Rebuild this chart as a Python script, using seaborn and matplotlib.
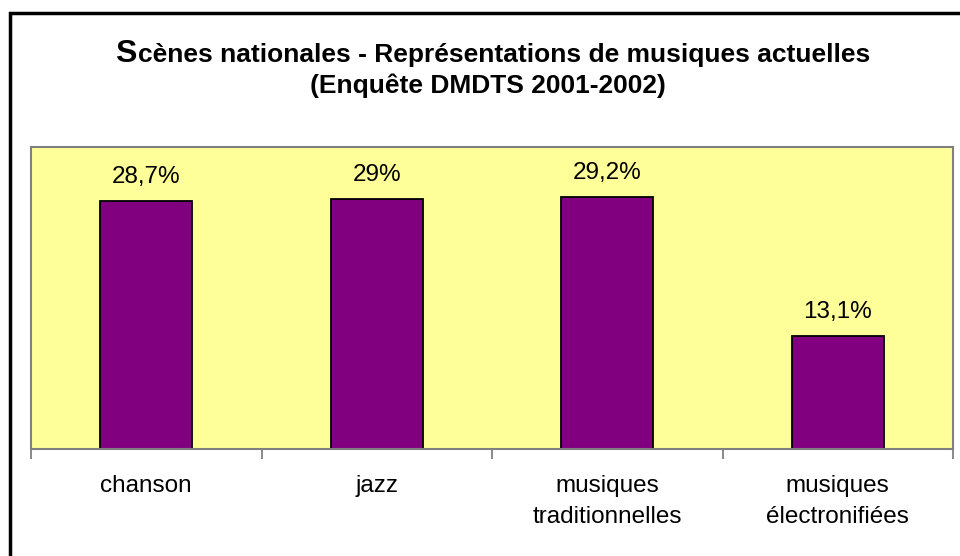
import matplotlib
matplotlib.use("Agg")
import matplotlib.pyplot as plt
import seaborn as sns
import pandas as pd
from matplotlib.patches import Rectangle

### data
categories = ["chanson", "jazz", "musiques\ntraditionnelles", "musiques\nélectronifiées"]
values = [28.7, 29.0, 29.2, 13.1]
value_labels = ["28,7%", "29%", "29,2%", "13,1%"]

df = pd.DataFrame({"cat": categories, "val": values})

sns.set_style("white")
plt.rcParams["font.family"] = ["Liberation Sans", "DejaVu Sans"]
plt.rcParams["text.color"] = "black"
plt.rcParams["xtick.color"] = "black"

W, H = 960, 556
fig = plt.figure(figsize=(W / 100, H / 100), dpi=100)

# outer chart border (cut off on right/bottom like the original)
fig.patches.append(Rectangle((10 / W, -0.05), 1.1, 1 - 13 / H + 0.05,
                             transform=fig.transFigure, fill=False,
                             edgecolor="black", linewidth=2.5, zorder=0))

ax = fig.add_axes([31 / W, 1 - 449 / H, (953 - 31) / W, (449 - 147) / H])
ax.set_facecolor("#FFFF99")

sns.barplot(data=df, x="cat", y="val", ax=ax, color="#800080", width=0.4,
            edgecolor="black", linewidth=1.3, saturation=1)

for i, (v, lab) in enumerate(zip(values, value_labels)):
    ax.annotate(lab, (i, v), xytext=(0, 13), textcoords="offset points",
                ha="center", va="baseline", fontsize=17.5, color="black")

ax.set_xlim(-0.5, 3.5)
ax.set_ylim(0, 35)
ax.set_yticks([])
ax.set_xlabel("")
ax.set_ylabel("")

# category boundaries get tick marks, centres get the labels
ax.set_xticks([-0.5, 0.5, 1.5, 2.5, 3.5])
ax.set_xticklabels([])
ax.set_xticks(range(len(categories)), minor=True)
ax.set_xticklabels(categories, minor=True, fontsize=17.5, linespacing=1.5, color="black")
ax.tick_params(axis="x", which="major", length=7, width=1.3, color="#808080", direction="out", bottom=True)
ax.tick_params(axis="x", which="minor", length=0, pad=19)

for s in ax.spines.values():
    s.set_visible(True)
    s.set_color("#808080")
    s.set_linewidth(1.5)

# title: first letter bigger
fig.canvas.draw()
r = fig.canvas.get_renderer()
t_s = fig.text(0, 1 - 62 / H, "S", fontsize=23, weight="bold", va="baseline", color="black")
t_rest = fig.text(0, 1 - 62 / H, "cènes nationales - Représentations de musiques actuelles",
                  fontsize=19, weight="bold", va="baseline", color="black")
w_s = t_s.get_window_extent(r).width
w_rest = t_rest.get_window_extent(r).width
x0 = 492 - (w_s + w_rest) / 2
t_s.set_x(x0 / W)
t_rest.set_x((x0 + w_s + 1) / W)
fig.text(488 / W, 1 - 93 / H, "(Enquête DMDTS 2001-2002)", fontsize=19,
         weight="bold", ha="center", va="baseline", color="black")

fig.savefig("out.png", dpi=100)
